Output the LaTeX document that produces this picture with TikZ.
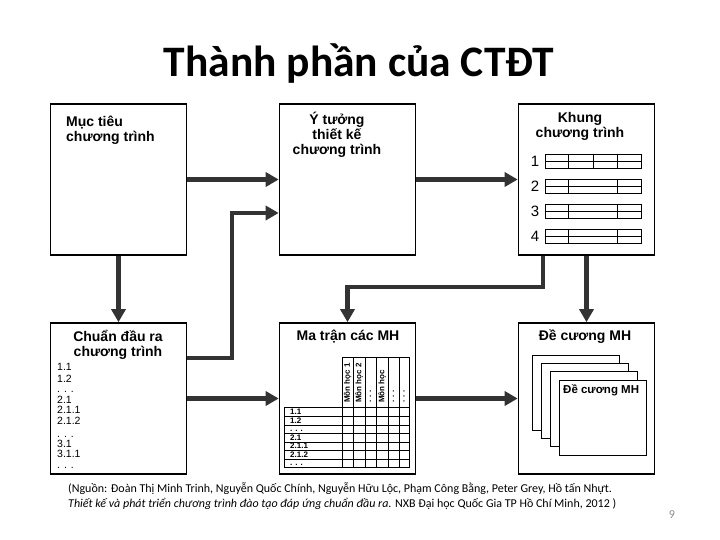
\documentclass[tikz,border=0pt]{standalone}
\usepackage{fontspec}
\setmainfont{Carlito}
\newfontfamily\arialfont{Liberation Sans}
\newfontfamily\arialbf{Liberation Sans Bold}
\usetikzlibrary{arrows.meta,calc}
\newcommand{\dotsmark}{. . .}

\tikzset{
  box/.style={draw,line width=1.6pt,minimum width=136pt,minimum height=151pt,inner sep=0pt},
  flow/.style={draw=black!80,line width=4.5pt,-{Triangle[width=14pt,length=13pt]}},
  tbl/.style={line width=0.7pt},
  lbl/.style={font=\arialbf\fontsize{14}{15}\selectfont,inner sep=0pt},
  small/.style={font=\arialfont\fontsize{10.5}{11}\selectfont,inner sep=0pt,anchor=base west},
  tiny/.style={font=\arialbf\fontsize{8}{9}\selectfont,inner sep=0pt},
}

\begin{document}
\begin{tikzpicture}[x=1pt,y=-1pt]
    \useasboundingbox (0,0) rectangle (720,540);
    % title
    \node[anchor=base,font=\bfseries\fontsize{43.5}{46}\selectfont] (title) at (359,77) {Thành phần của CTĐT};
    % the six boxes
    \node[box] (mt) at (118.5,179.5) {};
    \node[box] (yt) at (347.5,179.5) {};
    \node[box] (kh) at (586.5,179.5) {};
    \node[box] (cd) at (118.5,398.5) {};
    \node[box] (mtr) at (347.5,398.5) {};
    \node[box] (dc) at (586.5,398.5) {};
    % box titles
    \node[lbl,align=left,anchor=north west] (mtt) at (66,116) {Mục tiêu\\chương trình};
    \node[lbl,align=center,anchor=north] (ytt) at (337,112) {Ý tưởng\\thiết kế\\chương trình};
    \node[lbl,align=center,anchor=north] (kht) at (580,112) {Khung\\chương trình};
    \node[lbl,align=center,anchor=north] (cdt) at (118,330) {Chuẩn đầu ra\\chương trình};
    \node[lbl,anchor=north] (mtrt) at (348,330) {Ma trận các MH};
    \node[lbl,anchor=north] (dct) at (585,330) {Đề cương MH};
    % khung: four semesters
    \foreach \n/\y in {1/154,2/179,3/204,4/229}{
        \node[font=\arialfont\fontsize{15}{15}\selectfont,inner sep=0pt] (hk\n) at (535,\y+7) {\n};
        \draw[tbl] (545,\y) rectangle (641,\y+14) (545,\y+7) -- (641,\y+7)
            (568,\y) -- (568,\y+14) (617,\y) -- (617,\y+14);
    }
    \draw[tbl] (593,154) -- (593,168);
    % chuan dau ra list
    \foreach \y/\t [count=\i] in {370/1.1,382/1.2,392/\dotsmark,403/2.1,413/2.1.1,424/2.1.2,437/\dotsmark,447/3.1,457/3.1.1,468/\dotsmark}
        \node[small] (cdl\i) at (57,\y) {\t};
    % ma tran
    \foreach \y in {416,425,433,442,450,459}
        \draw[tbl] (284,\y) -- (409,\y);
    \draw[tbl] (284,407) rectangle (409,467) (342,357) -- (409,357);
    \foreach \x in {342,353,365,376,388,399,409}
        \draw[tbl] (\x,357) -- (\x,467);
    \foreach \y/\t [count=\i] in {415/1.1,424/1.2,432/\dotsmark,441/2.1,449/2.1.1,458/2.1.2,466/\dotsmark}
        \node[tiny,anchor=base west] (mr\i) at (290,\y-1) {\t};
    \foreach \x/\t [count=\i] in {347.5/Môn học 1,359/Môn học 2,370.5/\dotsmark,382/Môn học,393.5/\dotsmark,404/\dotsmark}
        \node[tiny,rotate=90,anchor=west] (mc\i) at (\x,403) {\t};
    % de cuong: stacked pages
    \foreach \i in {0,1,2,3}
        \draw[fill=white,line width=0.8pt] (532+9*\i,355+8.3*\i) rectangle ++(87,75);
    \node[font=\arialbf\fontsize{11.5}{12}\selectfont,inner sep=0pt,anchor=base west] (dcp) at (563,393) {Đề cương MH};
    % arrows
    \coordinate (j1) at (232,213);
    \draw[flow] (mt.east) -- (yt.west);
    \draw[flow] (yt.east) -- (kh.west);
    \draw[flow] (mt.south) -- (cd.north);
    \draw[flow] ($(cd.east)+(0,-40.5)$) -| (j1) -- (yt.west |- j1);
    \draw[flow] ($(kh.south)+(-43.5,0)$) -- ++(0,31) -| (mtr.north);
    \draw[flow] (kh.south) -- (dc.north);
    \draw[flow] (cd.east) -- (mtr.west);
    \draw[flow] (mtr.east) -- (dc.west);
    % source
    \node[anchor=base west,inner sep=0pt,font=\fontsize{12}{14}\selectfont] (src1) at (68,492)
        {(Nguồn: Đoàn Thị Minh Trinh, Nguyễn Quốc Chính, Nguyễn Hữu Lộc, Phạm Công Bằng, Peter Grey, Hồ tấn Nhựt.};
    \node[anchor=base west,inner sep=0pt,font=\fontsize{12}{14}\selectfont] (src2) at (68,507)
        {\textit{Thiết kế và phát triển chương trình đào tạo đáp ứng chuẩn đầu ra.} NXB Đại học Quốc Gia TP Hồ Chí Minh, 2012 )};
    \node[text=black!45,font=\fontsize{12}{14}\selectfont] (pg) at (672,515) {9};
\end{tikzpicture}
\end{document}
